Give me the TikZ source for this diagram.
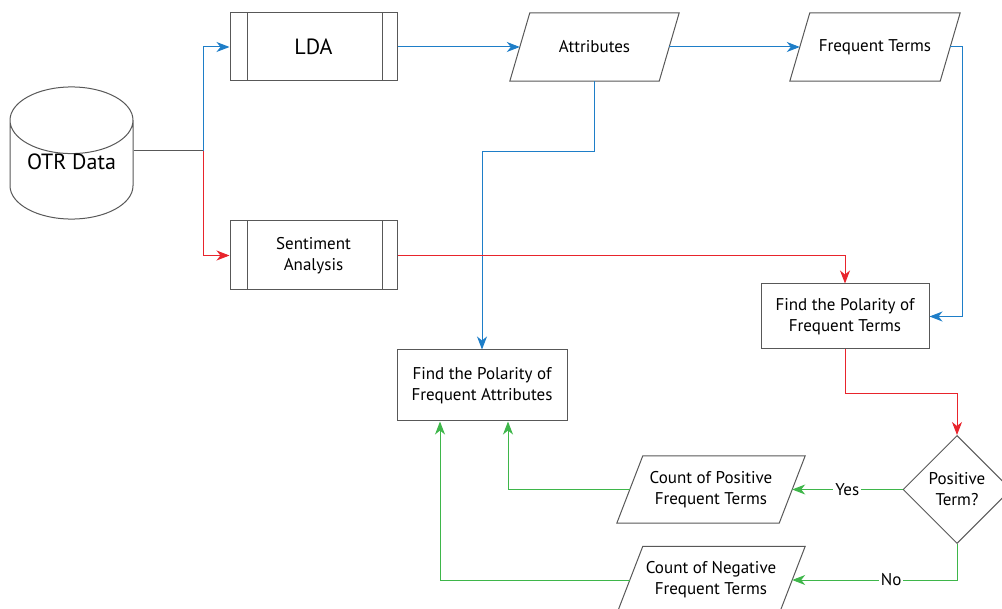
\documentclass[tikz,border=0pt]{standalone}
\usepackage{fontspec}
\setmainfont{PT Sans}
\usetikzlibrary{shapes.geometric,arrows.meta}
\definecolor{flowblue}{RGB}{30,126,200}
\definecolor{flowred}{RGB}{232,36,44}
\definecolor{flowgreen}{RGB}{62,182,74}
\definecolor{edgegray}{RGB}{88,88,88}
\begin{document}
\begin{tikzpicture}[x=1pt,y=-1pt,>={Stealth[length=13pt,width=10pt,inset=4pt]},line join=miter,
  every node/.style={font=\fontsize{17}{21}\selectfont,align=center,inner sep=0pt,text=black},
  box/.style={draw=edgegray,line width=1pt},
  subproc/.style={box,rectangle,path picture={
      \draw[edgegray,line width=1pt] ([xshift=17pt]path picture bounding box.north west) -- ([xshift=17pt]path picture bounding box.south west);
      \draw[edgegray,line width=1pt] ([xshift=-15pt]path picture bounding box.north east) -- ([xshift=-15pt]path picture bounding box.south east);}},
  iobox/.style={rectangle,append after command={\pgfextra{
      \draw[edgegray,line width=1pt] ([xshift=#1]\tikzlastnode.north west) -- ([xshift=#1]\tikzlastnode.north east)
        -- ([xshift=-#1]\tikzlastnode.south east) -- ([xshift=-#1]\tikzlastnode.south west) -- cycle;}}},
  link/.style={line width=1pt},
  ]
%%
\useasboundingbox (0,0) rectangle (1002,609);
\node (otr) at (71.5,153) [box,cylinder,anchor=shape center,shape border rotate=90,aspect=0.75,minimum height=110pt,minimum width=123pt,font=\fontsize{22}{26}\selectfont] {\raisebox{16pt}{OTR Data}};
  \node (lda) at (313.5,47) [subproc,minimum width=167pt,minimum height=68pt,font=\fontsize{22}{26}\selectfont] {LDA};
  \node (senti) at (313.5,255.5) [subproc,minimum width=167pt,minimum height=69pt] {Sentiment\\Analysis};
  \node (attr) at (594.5,47) [iobox=10pt,minimum width=149pt,minimum height=68pt] {Attributes};
  \node (freq) at (875,47) [iobox=10pt,minimum width=150pt,minimum height=68pt] {Frequent Terms};
  \node (polterm) at (845,316.5) [box,rectangle,minimum width=168pt,minimum height=65pt] {Find the Polarity of\\Frequent Terms};
  \node (polattr) at (482,385.5) [box,rectangle,minimum width=170pt,minimum height=71pt] {Find the Polarity of\\Frequent Attributes};
  \node (posq) at (957,489.5) [box,diamond,minimum width=108pt,minimum height=108pt] {Positive\\Term?};
  \node (cpos) at (711,489.5) [iobox=13pt,minimum width=162pt,minimum height=67pt] {Count of Positive\\Frequent Terms};
  \node (cneg) at (711,580) [iobox=13pt,minimum width=162pt,minimum height=67pt] {Count of Negative\\Frequent Terms};
  \coordinate (split) at (203,151);
  \draw [link,edgegray] (otr.east |- split) -- (split);
  \draw [link,flowblue,->] (split) |- (lda.west);
  \draw [link,flowred,->] (split) |- (senti.west);
  \draw [link,flowblue,->] (lda.east) -- (attr.west);
  \draw [link,flowblue,->] (attr.east) -- (freq.west);
  \draw [link,flowblue,->] (freq.east) -- ([xshift=12pt]freq.east) |- (polterm.east);
  \draw [link,flowblue,->] (attr.south) -- ++(0,70) -| (polattr.north);
  \draw [link,flowred,->] (senti.east) -| (polterm.north);
  \draw [link,flowred,->] (polterm.south) -- ++(0,44) -| (posq.north);
  \draw [link,flowgreen,->] (posq.west) -- (cpos.east) node [midway,fill=white,inner sep=2pt] {Yes};
  \draw [link,flowgreen,->] (posq.south) |- (cneg.east) node [pos=0.7,fill=white,inner sep=2pt] {No};
  \draw [link,flowgreen,->] (cpos.west) -| ([xshift=26pt]polattr.south);
  \draw [link,flowgreen,->] (cneg.west) -| ([xshift=-42pt]polattr.south);
%
\end{tikzpicture}
\end{document}
